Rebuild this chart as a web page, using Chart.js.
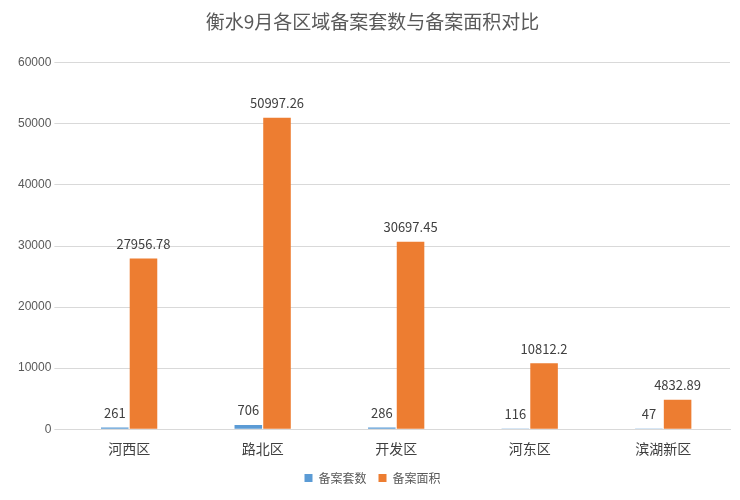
<!DOCTYPE html>
<html><head><meta charset="utf-8">
<script src="https://cdn.jsdelivr.net/npm/chart.js@4/dist/chart.umd.min.js"></script>
<style>html,body{margin:0;padding:0;background:#fff}#w{width:740px;height:500px}</style>
</head><body><div id="w"><canvas id="c"></canvas></div>
<script>
const categories = ["河西区","路北区","开发区","河东区","滨湖新区"];
const seriesNames = ["备案套数","备案面积"];
const countValues = [261,706,286,116,47];
const areaValues = [27956.78,50997.26,30697.45,10812.2,4832.89];
const labelsA = ["261","706","286","116","47"];
const labelsB = ["27956.78","50997.26","30697.45","10812.2","4832.89"];
const valueLabels = {
  id:'vl',
  afterDatasetsDraw(chart){
    const ctx = chart.ctx;
    ctx.save();
    ctx.font = '13px "Noto Sans CJK SC", "DejaVu Sans", sans-serif';
    ctx.fillStyle = '#404040';
    ctx.textAlign = 'center';
    ctx.textBaseline = 'bottom';
    const txt = [labelsA, labelsB];
    chart.data.datasets.forEach((ds,i)=>{
      chart.getDatasetMeta(i).data.forEach((b,j)=>{
        ctx.fillText(txt[i][j], b.x, b.y - 8);
      });
    });
    ctx.restore();
  }
};
new Chart(document.getElementById('c'), {
  type:'bar',
  data:{labels:categories,datasets:[
    {label:seriesNames[0],data:countValues,backgroundColor:'#5B9BD5',barPercentage:0.96,categoryPercentage:0.43},
    {label:seriesNames[1],data:areaValues,backgroundColor:'#ED7D31',barPercentage:0.96,categoryPercentage:0.43}
  ]},
  options:{
    responsive:true,maintainAspectRatio:false,animation:false,
    layout:{padding:{left:15,right:10,top:4,bottom:6}},
    plugins:{
      title:{display:true,text:'衡水9月各区域备案套数与备案面积对比',color:'#595959',
        font:{size:19,family:'"Noto Sans CJK SC", sans-serif',weight:'normal'},padding:{top:6,bottom:30}},
      legend:{position:'bottom',labels:{boxWidth:8,boxHeight:8,color:'#595959',padding:12,
        font:{size:12,family:'"Noto Sans CJK SC", sans-serif'}}},
      tooltip:{enabled:false}
    },
    scales:{
      y:{min:0,max:60000,ticks:{stepSize:10000,color:'#595959',font:{size:12},callback:v=>String(v)},
        grid:{color:'#d9d9d9'},border:{display:false}},
      x:{ticks:{color:'#404040',font:{size:14,family:'"Noto Sans CJK SC", sans-serif'}},
        grid:{display:false},border:{color:'#d9d9d9'}}
    }
  },
  plugins:[valueLabels]
});
</script></body></html>
